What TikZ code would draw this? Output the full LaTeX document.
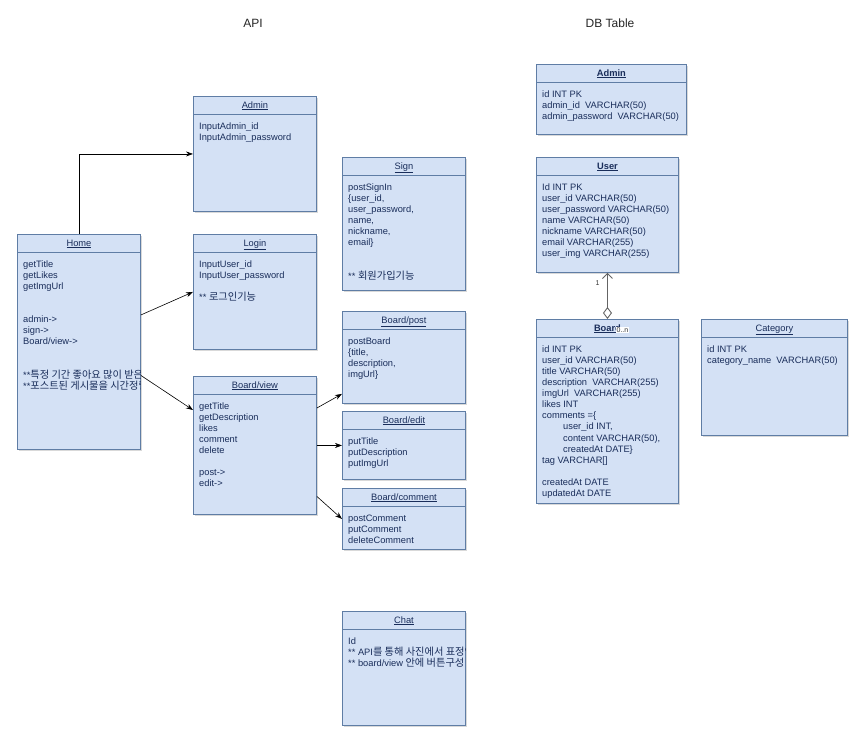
\documentclass[tikz,border=0pt]{standalone}
\usepackage{fontspec}
\setmainfont{Liberation Sans}
\newfontfamily\kr[Scale=1.1]{Noto Sans CJK KR}
\usepackage{tikz}
\usetikzlibrary{arrows.meta,shadows}
\definecolor{boxfill}{RGB}{212,225,245}
\definecolor{boxline}{RGB}{95,125,165}
\definecolor{boxtext}{RGB}{25,45,90}
\definecolor{agggray}{RGB}{100,100,100}

\begin{document}
\begin{tikzpicture}[x=1pt,y=-1pt,
	box/.style={draw=boxline,fill=boxfill,line width=0.9pt,anchor=north west,inner sep=0,
		drop shadow={shadow xshift=1.5pt,shadow yshift=-1.5pt,opacity=0.3}},
	ttl/.style={anchor=base,inner sep=0,text=boxtext,font=\fontsize{9.3}{11.1}\selectfont},
	body/.style={anchor=north west,inner sep=0,align=left,text=boxtext,font=\fontsize{9.3}{11.1}\selectfont},
	link/.style={-{Stealth[length=7pt,width=5pt]},black,line width=0.6pt},
	agg/.style={{Diamond[open,length=12pt,width=9pt]}-{Straight Barb[length=5pt,width=10pt]},draw=agggray,line width=0.9pt},
	lbl/.style={inner sep=0.8pt,text=black!80,font=\fontsize{7}{8}\selectfont}]
	\useasboundingbox (0,0) rectangle (863,745);
	
	% headings
	\node[font=\fontsize{12}{14}\selectfont,text=black!85] (apiT) at (253,23) {API};
	\node[font=\fontsize{12}{14}\selectfont,text=black!85] (dbT) at (610,23) {DB Table};
	
	% API boxes
	\begin{scope}[every node/.style={box}]
		\node[minimum width=123,minimum height=215] (home) at (17,234) {};
		\node[minimum width=123,minimum height=115] (apiadmin) at (193,96) {};
		\node[minimum width=123,minimum height=115] (login) at (193,234) {};
		\node[minimum width=123,minimum height=138] (bview) at (193,376) {};
		\node[minimum width=123,minimum height=133] (sign) at (342,157) {};
		\node[minimum width=123,minimum height=92] (bpost) at (342,311) {};
		\node[minimum width=123,minimum height=68] (bedit) at (342,411) {};
		\node[minimum width=123,minimum height=61] (bcomment) at (342,488) {};
		\node[minimum width=123,minimum height=114] (chat) at (342,611) {};
	\end{scope}
	
	% DB boxes
	\begin{scope}[every node/.style={box}]
		\node[minimum width=150,minimum height=70] (dbadmin) at (536,64) {};
		\node[minimum width=142,minimum height=115] (dbuser) at (536,157) {};
		\node[minimum width=142,minimum height=184] (dbboard) at (536,319) {};
		\node[minimum width=146,minimum height=116] (dbcat) at (701,319) {};
	\end{scope}
	
	\foreach \b in {home,apiadmin,login,bview,sign,bpost,bedit,bcomment,chat,dbadmin,dbuser,dbboard,dbcat}
		\draw[boxline,line width=0.9pt] ([yshift=-18.5pt]\b.north west) -- ([yshift=-18.5pt]\b.north east);
	
	% titles
	\node[ttl] (homeT) at ([yshift=-12pt]home.north) {\underline{Home}};
	\node[ttl] (apiadminT) at ([yshift=-12pt]apiadmin.north) {\underline{Admin}};
	\node[ttl] (loginT) at ([yshift=-12pt]login.north) {\underline{Login}};
	\node[ttl] (bviewT) at ([yshift=-12pt]bview.north) {\underline{Board/view}};
	\node[ttl] (signT) at ([yshift=-12pt]sign.north) {\underline{Sign}};
	\node[ttl] (bpostT) at ([yshift=-12pt]bpost.north) {\underline{Board/post}};
	\node[ttl] (beditT) at ([yshift=-12pt]bedit.north) {\underline{Board/edit}};
	\node[ttl] (bcommentT) at ([yshift=-12pt]bcomment.north) {\underline{Board/comment}};
	\node[ttl] (chatT) at ([yshift=-12pt]chat.north) {\underline{Chat}};
	\node[ttl,font=\fontsize{9.3}{11.1}\selectfont\bfseries] (dbadminT) at ([yshift=-12pt]dbadmin.north) {\underline{Admin}};
	\node[ttl,font=\fontsize{9.3}{11.1}\selectfont\bfseries] (dbuserT) at ([yshift=-12pt]dbuser.north) {\underline{User}};
	\node[ttl,font=\fontsize{9.3}{11.1}\selectfont\bfseries] (dbboardT) at ([yshift=-12pt]dbboard.north) {\underline{Board}};
	\node[ttl] (dbcatT) at ([yshift=-12pt]dbcat.north) {\underline{Category}};
	
	% API contents
	\begin{scope}
		\clip (home.north west) rectangle (home.south east);
		\node[body] (homeB) at ([xshift=6pt,yshift=-26pt]home.north west) {\rule{0pt}{7pt}getTitle\\getLikes\\getImgUrl\\[22.2pt]admin->\\sign->\\Board/view->\\[22.2pt]**{\kr 특정 기간 좋아요 많이 받은 게시물}\\**{\kr 포스트된 게시물을 시간정렬}};
	\end{scope}
	\node[body] (apiadminB) at ([xshift=6pt,yshift=-26pt]apiadmin.north west) {\rule{0pt}{7pt}InputAdmin\_id\\InputAdmin\_password};
	\node[body] (loginB) at ([xshift=6pt,yshift=-26pt]login.north west) {\rule{0pt}{7pt}InputUser\_id\\InputUser\_password\\[11.1pt]** {\kr 로그인기능}};
	\node[body] (bviewB) at ([xshift=6pt,yshift=-26pt]bview.north west) {\rule{0pt}{7pt}getTitle\\getDescription\\likes\\comment\\delete\\[11.1pt]post->\\edit->};
	\node[body] (signB) at ([xshift=6pt,yshift=-26pt]sign.north west) {\rule{0pt}{7pt}postSignIn\\\{user\_id,\\user\_password,\\name,\\nickname,\\email\}\\[22.2pt]** {\kr 회원가입기능}};
	\node[body] (bpostB) at ([xshift=6pt,yshift=-26pt]bpost.north west) {\rule{0pt}{7pt}postBoard\\\{title,\\description,\\imgUrl\}};
	\node[body] (beditB) at ([xshift=6pt,yshift=-26pt]bedit.north west) {\rule{0pt}{7pt}putTitle\\putDescription\\putImgUrl};
	\node[body] (bcommentB) at ([xshift=6pt,yshift=-26pt]bcomment.north west) {\rule{0pt}{7pt}postComment\\putComment\\deleteComment};
	\begin{scope}
		\clip (chat.north west) rectangle (chat.south east);
		\node[body] (chatB) at ([xshift=6pt,yshift=-26pt]chat.north west) {\rule{0pt}{7pt}Id\\** API{\kr 를 통해 사진에서 표정인식}\\** board/view {\kr 안에 버튼구성}};
	\end{scope}
	
	% DB contents
	\node[body] (dbadminB) at ([xshift=6pt,yshift=-26pt]dbadmin.north west) {\rule{0pt}{7pt}id INT PK\\admin\_id~ VARCHAR(50)\\admin\_password~ VARCHAR(50)};
	\node[body] (dbuserB) at ([xshift=6pt,yshift=-26pt]dbuser.north west) {\rule{0pt}{7pt}Id INT PK\\user\_id VARCHAR(50)\\user\_password VARCHAR(50)\\name VARCHAR(50)\\nickname VARCHAR(50)\\email VARCHAR(255)\\user\_img VARCHAR(255)};
	\node[body] (dbboardB) at ([xshift=6pt,yshift=-26pt]dbboard.north west) {\rule{0pt}{7pt}id INT PK\\user\_id VARCHAR(50)\\title VARCHAR(50)\\description~ VARCHAR(255)\\imgUrl~ VARCHAR(255)\\likes INT\\comments =\{\\\hspace*{21pt}user\_id INT,\\\hspace*{21pt}content VARCHAR(50),\\\hspace*{21pt}createdAt DATE\}\\tag VARCHAR[]\\[11.1pt]createdAt DATE\\updatedAt DATE};
	\node[body] (dbcatB) at ([xshift=6pt,yshift=-26pt]dbcat.north west) {\rule{0pt}{7pt}id INT PK\\category\_name~ VARCHAR(50)};
	
	% API links
	\draw[link] (home.north) |- (apiadmin.west);
	\draw[link] ([yshift=27pt]home.east) -- (login.west);
	\draw[link] ([yshift=-33.5pt]home.east) -- ([yshift=-34pt]bview.north west);
	\draw[link] ([yshift=-32pt]bview.north east) -- ([yshift=10pt]bpost.south west);
	\draw[link] (bview.east) -- (bedit.west);
	\draw[link] ([yshift=-51pt]bview.east) -- (bcomment.west);
	
	% DB link
	\draw[agg] (dbboard.north) -- (dbuser.south);
	\node[lbl] (one) at ([xshift=-10pt,yshift=-10pt]dbuser.south) {1};
	\node[lbl,fill=white] (many) at ([xshift=15pt,yshift=-11pt]dbboard.north) {0..n};
\end{tikzpicture}
\end{document}
